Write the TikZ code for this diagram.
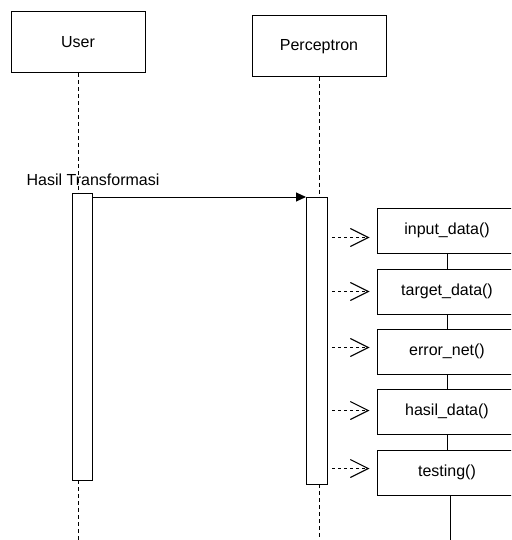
\documentclass[tikz,border=0pt]{standalone}
\usepackage{fontspec}
\setmainfont{Liberation Sans}
\usetikzlibrary{arrows.meta}
\tikzset{
	lifebox/.style={draw, line width=1pt, minimum width=134pt, minimum height=61pt, font=\fontsize{16}{19}\selectfont},
	methodbox/.style={draw, line width=1pt, minimum width=140pt, minimum height=45pt, font=\fontsize{16}{19}\selectfont},
	lifeline/.style={line width=1pt, dash pattern=on 4pt off 3pt},
	call/.style={dashed, line width=0.8pt, -{Straight Barb[length=18pt, width=18pt, line width=1.1pt]}},
	msg/.style={line width=1pt, -{Triangle[length=10pt, width=9pt]}}
}
\begin{document}
\begin{tikzpicture}[x=1pt, y=-1pt]
		\clip (0,0) rectangle (511,540);
		% lifelines
		\node[lifebox] (user) at (78,42.5) {User};
		\node[lifebox] (perc) at (319,46.5) {Perceptron};
		\draw[line width=1pt] (72,193) rectangle (92,480);
		\coordinate (ua) at (78,193);
		\coordinate (uz) at (78,480);
		\coordinate (ub) at (78,540);
		\draw[line width=1pt] (306,197) rectangle (327,484);
		\coordinate (pa) at (319,197);
		\coordinate (pz) at (319,484);
		\coordinate (pb) at (319,540);
		\coordinate (pe) at (327,340);
		\draw[lifeline] (user.south) -- (ua);
		\draw[lifeline] (uz) -- (ub);
		\draw[lifeline] (perc.south) -- (pa);
		\draw[lifeline] (pz) -- (pb);
		% message
		\coordinate (us) at (92,197);
		\coordinate (pt) at (306,197);
		\draw[msg] (us) -- (pt);
		\node[font=\fontsize{16}{19}\selectfont] (hasil) at (93,180) {Hasil Transformasi};
		% methods
		\node[methodbox] (m1) at (447,230.5) {input\_data()};
		\node[methodbox] (m2) at (447,291.5) {target\_data()};
		\node[methodbox] (m3) at (447,351.5) {error\_net()};
		\node[methodbox] (m4) at (447,411.5) {hasil\_data()};
		\node[methodbox] (m5) at (447,472.5) {testing()};
		\coordinate (mb) at (450,540);
		\draw[line width=1pt] (m1.south) -- (m2.north);
		\draw[line width=1pt] (m2.south) -- (m3.north);
		\draw[line width=1pt] (m3.south) -- (m4.north);
		\draw[line width=1pt] (m4.south) -- (m5.north);
		\draw[line width=1pt] (m5.south) -- (mb |- m5.south) -- (mb);
		\foreach \m/\dy in {m1/7,m2/0,m3/-4,m4/-1,m5/-4}
			\draw[call, shorten <=5pt, shorten >=7pt] ([yshift=-\dy pt]pe |- \m.west) -- ([yshift=-\dy pt]\m.west);
	\end{tikzpicture}
\end{document}
